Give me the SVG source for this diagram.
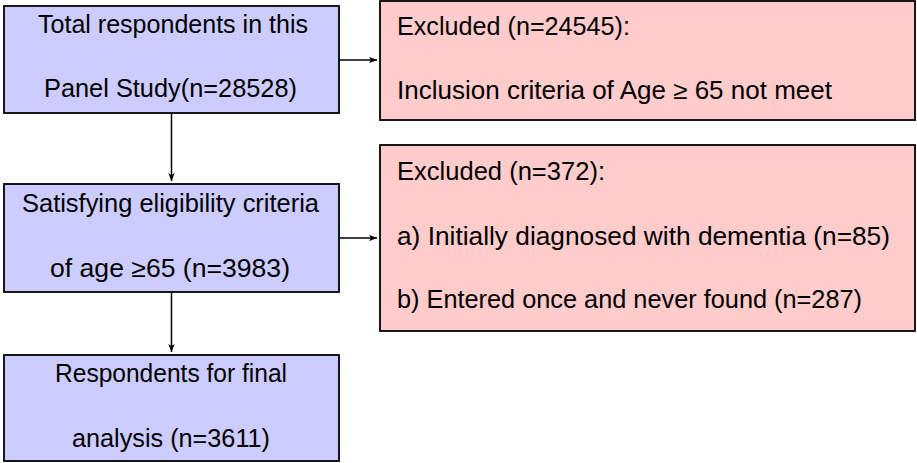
<svg xmlns="http://www.w3.org/2000/svg" width="917" height="463" viewBox="0 0 917 463">
<style>
.blue{fill:#ccccff;stroke:#000;stroke-width:1.8}
.red{fill:#ffcccc;stroke:#000;stroke-width:1.8}
text{font-family:"Liberation Sans","DejaVu Sans",sans-serif;font-size:25px;fill:#000}
.c{text-anchor:middle}
.conn{stroke:#000;stroke-width:1.5;fill:none;marker-end:url(#arr)}
</style>
<defs>
<marker id="arr" viewBox="0 0 10 8" refX="10" refY="4" markerWidth="8" markerHeight="6.5" markerUnits="userSpaceOnUse" orient="auto">
<path d="M0,0 L10,4 L0,8 L2.5,4 Z" fill="#000"/>
</marker>
</defs>
<g id="total">
<rect class="blue" x="4" y="6" width="335" height="107"/>
<text class="c" x="173" y="33" textLength="270" lengthAdjust="spacingAndGlyphs">Total respondents in this</text>
<text class="c" x="170.5" y="97" textLength="253" lengthAdjust="spacingAndGlyphs">Panel Study(n=28528)</text>
</g>
<g id="excluded1">
<rect class="red" x="380" y="1" width="535" height="119"/>
<text x="397" y="35" textLength="233" lengthAdjust="spacingAndGlyphs">Excluded (n=24545):</text>
<text x="397" y="99" textLength="435" lengthAdjust="spacingAndGlyphs">Inclusion criteria of Age ≥ 65 not meet</text>
</g>
<g id="eligible">
<rect class="blue" x="4" y="184" width="335" height="108"/>
<text class="c" x="170.5" y="212" textLength="297" lengthAdjust="spacingAndGlyphs">Satisfying eligibility criteria</text>
<text class="c" x="170" y="277" textLength="240" lengthAdjust="spacingAndGlyphs">of age ≥65 (n=3983)</text>
</g>
<g id="excluded2">
<rect class="red" x="380" y="145" width="535" height="186"/>
<text x="397" y="180" textLength="208" lengthAdjust="spacingAndGlyphs">Excluded (n=372):</text>
<text x="397" y="245" textLength="493" lengthAdjust="spacingAndGlyphs">a) Initially diagnosed with dementia (n=85)</text>
<text x="397" y="308" textLength="465" lengthAdjust="spacingAndGlyphs">b) Entered once and never found (n=287)</text>
</g>
<g id="final">
<rect class="blue" x="4" y="355" width="335" height="106"/>
<text class="c" x="171" y="382" textLength="232" lengthAdjust="spacingAndGlyphs">Respondents for final</text>
<text class="c" x="171" y="447" textLength="198" lengthAdjust="spacingAndGlyphs">analysis (n=3611)</text>
</g>
<g id="connectors">
<line class="conn" x1="339" y1="60" x2="377" y2="60"/>
<line class="conn" x1="339" y1="238" x2="377" y2="238"/>
<line class="conn" x1="171.5" y1="113" x2="171.5" y2="181"/>
<line class="conn" x1="171.5" y1="292" x2="171.5" y2="352"/>
</g>
</svg>
